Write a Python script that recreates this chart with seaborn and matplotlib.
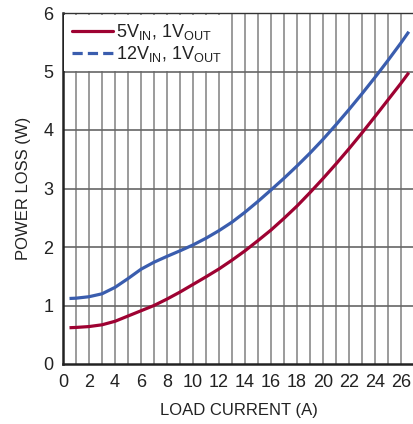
import numpy as np
import pandas as pd
import matplotlib
matplotlib.use("Agg")
import matplotlib.pyplot as plt
from matplotlib.lines import Line2D
import seaborn as sns

# load current (A) vs power loss (W)
current_5v = [0.5, 1, 2, 3, 4, 5, 6, 7, 8, 9, 10, 11, 12, 13, 14, 15, 16, 17, 18,
              19, 20, 21, 22, 23, 24, 25, 26, 26.6]
loss_5v = [0.62, 0.625, 0.64, 0.67, 0.73, 0.82, 0.91, 1.0, 1.11, 1.23, 1.36, 1.49,
           1.625, 1.775, 1.935, 2.11, 2.29, 2.49, 2.70, 2.93, 3.17, 3.42, 3.68,
           3.95, 4.23, 4.515, 4.80, 4.98]
current_12v = [0.5, 1, 2, 3, 4, 5, 6, 7, 8, 9, 10, 11, 12, 13, 14, 15, 16, 17, 18,
               19, 20, 21, 22, 23, 24, 25, 26, 26.6]
loss_12v = [1.12, 1.125, 1.15, 1.2, 1.31, 1.46, 1.62, 1.74, 1.84, 1.935, 2.035,
            2.15, 2.28, 2.425, 2.595, 2.78, 2.975, 3.175, 3.385, 3.605, 3.84,
            4.09, 4.35, 4.62, 4.90, 5.19, 5.49, 5.68]

labels = [r"5V$_{IN}$, 1V$_{OUT}$", r"12V$_{IN}$, 1V$_{OUT}$"]
x_ticks = list(range(0, 27, 2))
y_ticks = list(range(0, 7))

RED = "#9E0232"
BLUE = "#3A5DAE"

sns.set_theme(style="white")
plt.rcParams["font.family"] = ["Liberation Sans Narrow", "Liberation Sans", "DejaVu Sans"]
plt.rcParams["mathtext.default"] = "regular"

fig = plt.figure(figsize=(4.14, 4.24), dpi=100)
ax = fig.add_axes([63 / 414, 60 / 424, 351 / 414, 351 / 424])

df5 = pd.DataFrame({"current": current_5v, "loss": loss_5v})
df12 = pd.DataFrame({"current": current_12v, "loss": loss_12v})
sns.lineplot(data=df5, x="current", y="loss", ax=ax, color=RED, linewidth=2.3,
             zorder=3, solid_capstyle="butt")
sns.lineplot(data=df12, x="current", y="loss", ax=ax, color=BLUE, linewidth=2.3,
             zorder=3, solid_capstyle="butt")

ax.set_xlim(0, 27)
ax.set_ylim(0, 6)

# grid: vertical every 1 A, horizontal every 1 W
for xv in range(1, 27):
    ax.axvline(xv, color="#8a8a8a", linewidth=1.2, zorder=1)
for yv in range(1, 6):
    ax.axhline(yv, color="#666666", linewidth=1.2, zorder=1)

ax.set_xticks(x_ticks)
ax.set_yticks(y_ticks)
ax.tick_params(axis="both", length=0, labelsize=13, colors="#222222", pad=7)
ax.set_xlabel("LOAD CURRENT (A)", fontsize=12, color="#222222", labelpad=9)
ax.set_ylabel("POWER LOSS (W)", fontsize=12, color="#222222", labelpad=9)

for side in ["left", "bottom"]:
    ax.spines[side].set_color("#222222")
    ax.spines[side].set_linewidth(1.8)
ax.spines["top"].set_color("#333333")
ax.spines["top"].set_linewidth(1.0)
ax.spines["right"].set_visible(False)

handles = [Line2D([], [], color=RED, linewidth=2.3),
           Line2D([], [], color=BLUE, linewidth=2.3, linestyle=(0, (3.2, 1.6)))]
leg = ax.legend(handles, labels, loc="upper left", bbox_to_anchor=(0.004, 0.995),
                frameon=True, fancybox=False, framealpha=1, edgecolor="white",
                fontsize=13, handlelength=2.3, handletextpad=0.15,
                borderpad=0.4, labelspacing=0.12, borderaxespad=0)
leg.get_frame().set_linewidth(0)
leg.set_zorder(5)
for t in leg.get_texts():
    t.set_color("#222222")

fig.savefig("out.png", dpi=100)
